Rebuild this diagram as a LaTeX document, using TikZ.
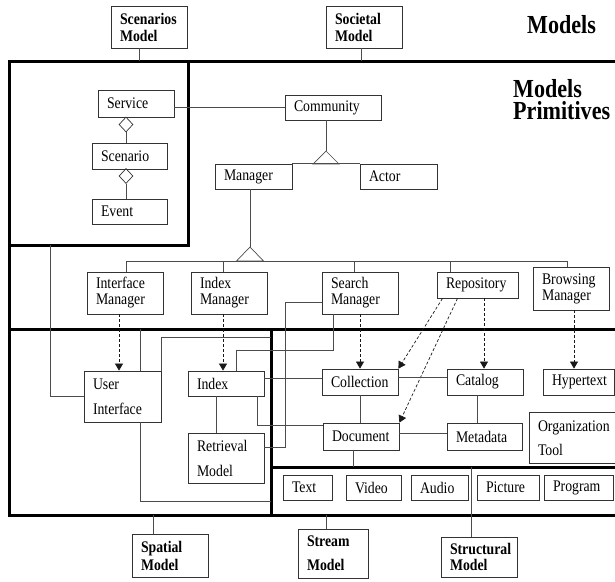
\documentclass[tikz,border=0pt]{standalone}
\usepackage{fontspec}
\setmainfont{Liberation Serif}[FakeStretch=0.85]
\usetikzlibrary{arrows.meta,shapes.geometric}
\hyphenpenalty=10000

\begin{document}
\begin{tikzpicture}[x=1pt, y=-1pt, >={Triangle[length=7pt,width=8pt]},
  font=\fontsize{16.2}{16}\selectfont,
  box/.style 2 args={draw=black!80, line width=0.8pt, inner xsep=9pt, inner ysep=0pt,
    minimum width=#1pt, minimum height=#2pt, text width={(#1-18)*1pt}, align=left},
  bbox/.style 2 args={box={#1}{#2}, font=\fontsize{16.2}{16}\selectfont\bfseries},
  wire/.style={draw=black!70, line width=0.7pt},
  dep/.style={draw=black!90, line width=0.7pt, dash pattern=on 3pt off 2pt, ->},
  frame/.style={line width=3pt},
  dia/.style={diamond, draw=black!80, line width=0.7pt, inner sep=0pt,
    minimum width=14pt, minimum height=15pt},
  title/.style={font=\fontsize{26}{22.5}\selectfont\bfseries, inner sep=0pt, align=left}]
  \useasboundingbox (0,0) rectangle (615,581);

  % --- frames of the layers ---
  \draw[frame] (615,61) -- (9,61) -- (9,515) -- (615,515);
  \draw[frame] (9,61) rectangle (188,245);
  \draw[frame] (9,329) -- (615,329);
  \draw[frame] (271,329) -- (271,515);
  \draw[frame] (271,467) -- (615,467);
  \coordinate (topbar) at (9,61);
  \coordinate (midbar) at (9,329);
  \coordinate (botbar) at (9,515);
  \coordinate (docbar) at (271,467);
  \coordinate (scenout) at (50,245);

  % --- models ---
  \node[bbox={76}{42}] (scenm) at (149,27) {Scenarios\\[1pt]Model};
  \node[bbox={76}{42}] (socm) at (364,27) {Societal\\[1pt]Model};
  \node[title, anchor=base west] (models) at (527,33) {Models};
  \node[title, anchor=north west] (prims) at (513,79) {Models\\Primitives};
  \draw[wire] ([xshift=-10pt]scenm.south) -- ([xshift=-10pt]scenm.south |- topbar);
  \draw[wire] ([xshift=-3pt]socm.south) -- ([xshift=-3pt]socm.south |- topbar);

  % --- scenarios ---
  \node[box={76}{27}] (service) at (136,103.5) {Service};
  \node[box={75}{26}] (scenario) at (129.5,156) {Scenario};
  \node[box={75}{25}] (event) at (129.5,211.5) {Event};
  \node[dia] (agg1) at (126,124.5) {};
  \node[dia] (agg2) at (126,176) {};
  \draw[wire] (agg1.south) -- (agg1.south |- scenario.north);
  \draw[wire] (agg2.south) -- (agg2.south |- event.north);

  % --- society ---
  \node[box={96}{25}] (community) at (333,107.5) {Community};
  \node[box={77}{25}] (manager) at (253.5,176.5) {Manager};
  \node[box={77}{25}] (actor) at (398.5,176.5) {Actor};
  \draw[wire] (service.east |- community.west) -- (community.west);
  \coordinate (gen1) at (326,151);
  \draw[wire] (gen1 |- community.south) -- (gen1);
  \draw[wire] (gen1) -- ++(-13,13) -- ++(26,0) -- cycle;
  \draw[wire] (manager.north east) -- (actor.north west);

  % --- managers ---
  \node[box={76}{42}] (ifm) at (125,293) {Interface\\Manager};
  \node[box={76}{42}] (ixm) at (229,293) {Index\\Manager};
  \node[box={76}{42}] (srm) at (360,293) {Search\\Manager};
  \node[box={81}{26}] (repo) at (477.5,285) {Repository};
  \node[box={76}{43}] (brm) at (571,288.5) {Browsing\\Manager};
  \coordinate (gen2) at (250,247);
  \draw[wire] (gen2 |- manager.south) -- (gen2);
  \draw[wire] (gen2) -- ++(-13.5,14) -- ++(27,0) -- cycle;
  \coordinate (busL) at (126,261);
  \coordinate (busR) at (567,261);
  \draw[wire] (busL) -- (busR);
  \draw[wire] (busL) -- (busL |- ifm.north);
  \draw[wire] ([xshift=-6pt]ixm.north) -- ([xshift=-6pt]ixm.north |- busL);
  \draw[wire] ([xshift=-6pt]srm.north) -- ([xshift=-6pt]srm.north |- busL);
  \draw[wire] ([xshift=-27.5pt]repo.north) -- ([xshift=-27.5pt]repo.north |- busL);
  \draw[wire] (busR) -- (busR |- brm.north);

  % --- primitives ---
  \node[box={77}{51}] (ui) at (122.5,396.5) {User\\[9pt]Interface};
  \node[box={76}{25}] (index) at (226,383.5) {Index};
  \node[box={76}{50}] (retr) at (226,458) {Retrieval\\[9pt]Model};
  \node[box={76}{26}] (coll) at (360,382) {Collection};
  \node[box={76}{26}] (catalog) at (485,382) {Catalog};
  \node[box={71}{26}] (hyper) at (578.5,382) {Hypertext};
  \node[box={76}{27}] (document) at (361,436.5) {Document};
  \node[box={75}{27}] (metadata) at (484.5,436.5) {Metadata};
  \node[box={86}{51}] (orgtool) at (572,438) {\mbox{Organization}\\[8pt]Tool};
  \foreach \name/\lbl/\cx/\w in {txt/Text/307.5/49, vid/Video/373.5/55,
      aud/Audio/439.5/57, pic/Picture/508/62, prog/Program/578.5/69}
    \node[box={\w}{25}] (\name) at (\cx,487.5) {\lbl};

  % --- managers act on primitives ---
  \draw[dep] ([xshift=-6pt]ifm.south) -- ([xshift=-6pt]ifm.south |- ui.north);
  \draw[dep] ([xshift=-6pt]ixm.south) -- ([xshift=-6pt]ixm.south |- index.north);
  \draw[dep] (srm.south -| coll.north) -- (coll.north);
  \draw[dep] ([xshift=-35pt]repo.south) -- (coll.north east);
  \draw[dep] ([xshift=-20pt]repo.south) -- (document.north east);
  \draw[dep] ([xshift=6.5pt]repo.south) -- ([xshift=6.5pt]repo.south |- catalog.north);
  \draw[dep] ([xshift=3pt]brm.south) -- ([xshift=3pt]brm.south |- hyper.north);

  % --- links between primitives ---
  \coordinate (uihigh) at (271,337);
  \coordinate (uilow) at (271,501);
  \coordinate (srmjog) at (285,302);
  \coordinate (srmdrop) at (333,350);
  \draw[wire] (scenout) |- (ui.west);
  \draw[wire] ([xshift=17.5pt]ui.north) -- ([xshift=17.5pt]ui.north |- midbar);
  \draw[wire] ([xshift=17.5pt]ui.south) |- (uilow);
  \draw[wire] (ui.north east) |- (uihigh);
  \draw[wire] (srm.west |- srmjog) -- (srmjog) |- ([yshift=11pt]retr.east);
  \draw[wire] (srmdrop |- srm.south) -- (srmdrop) -| ([xshift=10pt]index.north);
  \draw[wire] ([yshift=5.5pt]index.east) -- ([yshift=5.5pt]index.east -| coll.west);
  \draw[wire] ([xshift=31pt]index.south) |- ([yshift=11pt]document.west);
  \draw[wire] ([xshift=-10pt]index.south) -- ([xshift=-10pt]retr.north);
  \draw[wire] ([yshift=5pt]coll.east) -- ([yshift=5pt]catalog.west);
  \draw[wire] (coll.south) -- (coll.south |- document.north);
  \draw[wire] ([xshift=-8pt]catalog.south) -- ([xshift=-8pt]catalog.south |- metadata.north);
  \draw[wire] ([yshift=3.5pt]document.east) -- ([yshift=3.5pt]document.east -| metadata.west);
  \draw[wire] ([xshift=-8pt]document.south) -- ([xshift=-8pt]document.south |- docbar);

  % --- lower models ---
  \node[bbox={76}{43}] (spatial) at (170,555.5) {Spatial\\[2pt]Model};
  \node[bbox={70}{49}] (stream) at (333,553.5) {Stream\\[8pt]Model};
  \node[bbox={76}{40}] (structural) at (479,557) {Structural\\Model};
  \coordinate (structtop) at (471,467);
  \draw[wire] (structtop) -- (structtop |- structural.north);
  \draw[wire] ([xshift=-7pt]stream.north) -- ([xshift=-7pt]stream.north |- botbar);
  \draw[wire] ([xshift=-17pt]spatial.north) -- ([xshift=-17pt]spatial.north |- botbar);
\end{tikzpicture}
\end{document}
